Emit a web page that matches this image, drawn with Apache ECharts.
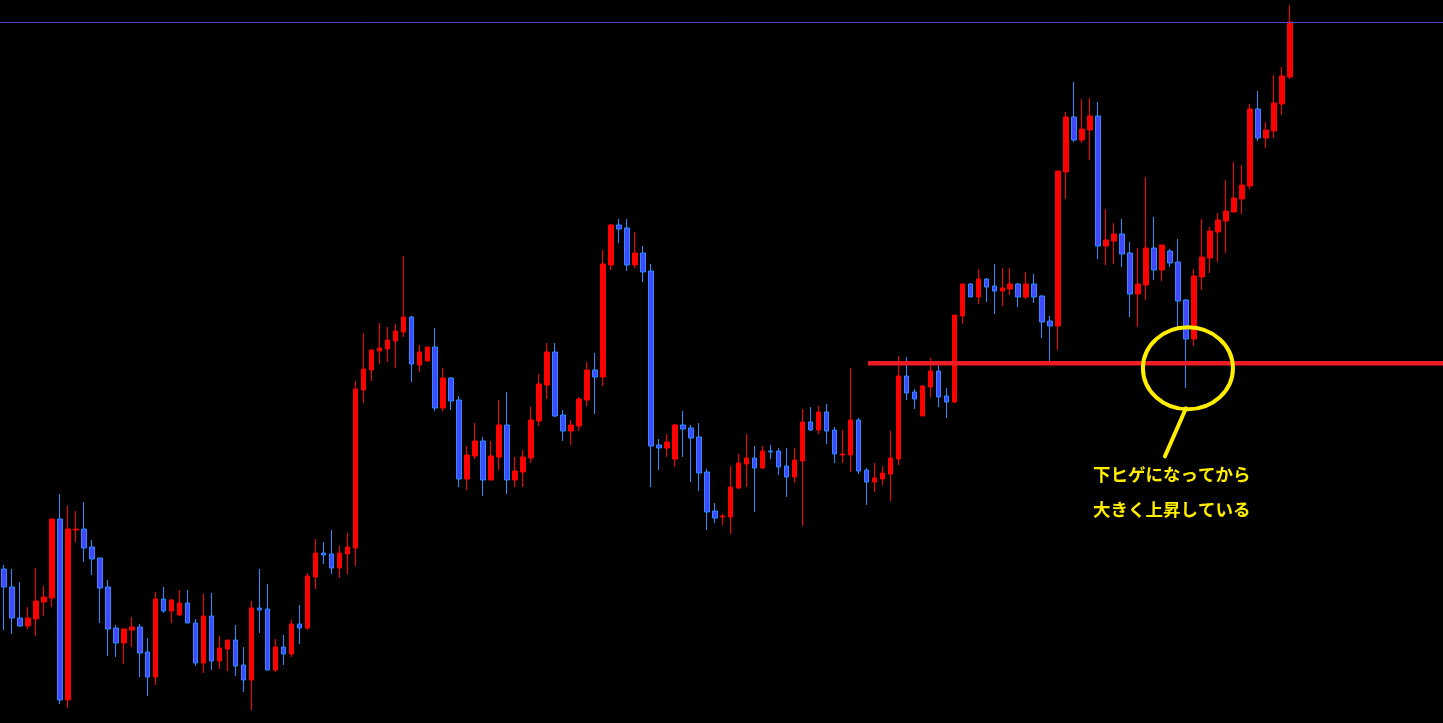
<!DOCTYPE html>
<html>
<head>
<meta charset="utf-8">
<script src="https://cdn.jsdelivr.net/npm/echarts@6/dist/echarts.min.js"></script>
<style>
html,body{margin:0;padding:0;background:#000;}
#chart{width:1443px;height:723px;}
</style>
</head>
<body>
<div id="chart"></div>
<script>
// Price data (relative units), one entry per candle, oldest first
const openPrices = [154,136,105,97,104,121,125,204,23,193,194,176,165,136,95,80,93,96,71,46,124,112,108,120,100,60,107,62,74,83,
58,43,115,114,53,76,69,99,95,146,170,169,155,169,175,333,353,372,374,382,391,406,358,362,376,315,345,323,244,267,
282,243,266,298,243,251,265,302,338,371,308,292,297,323,353,346,458,498,495,458,470,452,278,275,264,298,295,286,251,212,
206,206,235,259,265,255,272,272,257,246,262,301,293,311,293,268,268,303,253,241,244,249,264,347,331,307,336,352,327,321,
407,439,426,444,437,432,434,439,426,439,427,402,397,551,606,583,593,607,477,482,489,470,429,438,475,453,472,461,423,384,
446,465,491,502,511,524,537,614,585,592,619,646];
const closePrices = [136,105,97,105,122,126,204,23,194,194,175,164,135,94,80,94,96,70,46,124,112,123,120,100,60,107,62,75,83,57,
43,115,113,53,76,69,99,95,147,170,168,155,170,176,334,354,373,375,383,392,406,359,371,376,315,345,322,244,268,282,
243,267,298,243,252,266,303,339,371,307,292,298,324,353,346,459,498,494,458,470,451,277,275,281,298,294,285,250,211,205,
207,236,260,265,255,272,271,256,246,263,301,293,311,292,269,269,303,252,241,245,250,265,347,330,324,337,352,326,321,408,
439,426,444,436,432,435,439,426,439,426,401,397,552,606,583,594,607,477,483,489,469,429,439,475,453,478,460,422,384,447,
466,492,503,512,525,538,614,585,593,620,647,701];
const lowPrices = [93,89,96,94,87,107,116,19,15,181,161,148,100,67,66,59,76,46,27,38,110,100,107,100,57,50,53,54,52,47,
31,13,90,53,51,58,66,79,93,134,159,149,145,149,157,320,342,359,361,355,386,341,351,362,312,312,313,236,233,264,
227,243,253,229,236,236,260,297,324,306,282,278,292,317,309,337,453,480,452,455,441,236,253,266,256,266,241,232,193,200,
198,189,234,236,211,254,264,248,226,240,197,292,289,279,260,260,251,249,218,231,238,222,258,323,314,307,326,316,305,320,
399,426,419,421,409,417,428,416,424,420,385,362,373,524,581,580,563,464,458,459,456,406,396,423,443,442,456,395,335,377,
433,450,461,470,511,509,534,582,575,585,608,644];
const highPrices = [158,154,141,116,155,137,204,229,217,212,221,183,165,143,98,95,106,99,85,131,136,124,133,133,104,129,130,87,83,98,
76,122,154,139,84,88,103,118,150,184,181,193,177,190,342,390,374,400,396,399,467,407,378,376,395,355,346,327,277,300,
286,282,323,331,266,273,316,349,380,380,313,303,326,361,370,473,499,504,504,491,477,459,284,289,299,312,298,300,254,220,
209,257,269,289,277,277,278,275,275,275,314,316,317,319,296,293,355,305,255,260,257,292,367,366,334,338,365,358,335,408,
439,440,454,445,459,455,455,440,451,449,428,407,552,611,641,624,625,621,514,500,504,481,475,546,506,478,474,484,424,454,
504,496,510,543,561,558,619,632,601,648,656,718];
const categories = openPrices.map((_, i) => 'bar ' + (i + 1));
const CURRENT_PRICE = 701;   // thin blue price line
const SUPPORT_LEVEL = 359.7; // red horizontal support line
const SUPPORT_START_BAR = 108;
const HIGHLIGHT_BAR = 148;   // candle with the long lower wick
const annotationLines = ['下ヒゲになってから', '大きく上昇している'];

const TOTAL_SLOTS = 180;
const ohlc = openPrices.map((o, i) => [o, closePrices[i], lowPrices[i], highPrices[i]]);
const xCats = categories.concat(Array.from({length: TOTAL_SLOTS - categories.length}, (_, i) => 'pad' + i));

const chart = echarts.init(document.getElementById('chart'), null, {renderer: 'canvas'});
chart.setOption({
  backgroundColor: '#000000',
  animation: false,
  grid: {left: -2.5, width: TOTAL_SLOTS * 8, top: 0, bottom: 0},
  xAxis: {type: 'category', data: xCats, show: false, boundaryGap: true},
  yAxis: {type: 'value', min: 0, max: 723, show: false, splitLine: {show: false}},
  series: [{
    type: 'candlestick',
    data: ohlc,
    barWidth: 5,
    itemStyle: {
      color: '#ff0000', borderColor: '#ff0000',
      color0: '#4248ff', borderColor0: '#2a8cff',
      borderWidth: 1
    },
    markLine: {
      silent: true, symbol: ['none', 'none'], label: {show: false},
      lineStyle: {color: '#4848b8', width: 1, type: 'solid'},
      data: [[{coord: [0, CURRENT_PRICE], x: 0}, {coord: [TOTAL_SLOTS - 1, CURRENT_PRICE], x: 1443}]]
    }
  }]
});

const sStart = chart.convertToPixel({gridIndex: 0}, [SUPPORT_START_BAR, SUPPORT_LEVEL]);
const anchor = chart.convertToPixel({gridIndex: 0}, [HIGHLIGHT_BAR, SUPPORT_LEVEL]);
const cx = anchor[0] + 2, cy = anchor[1] + 5;
const rx = 45, ry = 41;
chart.setOption({
  graphic: [
    {type: 'line', silent: true, z: 60,
     shape: {x1: sStart[0] + 1.5, y1: sStart[1], x2: 1443, y2: sStart[1]},
     style: {stroke: '#ee1c24', lineWidth: 4.5}},
    {type: 'ellipse', silent: true, z: 70,
     shape: {cx: cx, cy: cy, rx: rx, ry: ry},
     style: {fill: 'none', stroke: '#ffee00', lineWidth: 4}},
    {type: 'line', silent: true, z: 70,
     shape: {x1: cx - 2, y1: cy + ry - 1, x2: cx - 23, y2: cy + ry + 47},
     style: {stroke: '#ffee00', lineWidth: 4, lineCap: 'round'}},
    {type: 'text', silent: true, z: 80, x: cx - 95, y: cy + 106,
     style: {text: annotationLines[0], fill: '#ffee00', font: 'bold 17.5px "Noto Sans CJK JP"', textVerticalAlign: 'middle'}},
    {type: 'text', silent: true, z: 80, x: cx - 95, y: cy + 141,
     style: {text: annotationLines[1], fill: '#ffee00', font: 'bold 17.5px "Noto Sans CJK JP"', textVerticalAlign: 'middle'}}
  ]
});
</script>
</body>
</html>
